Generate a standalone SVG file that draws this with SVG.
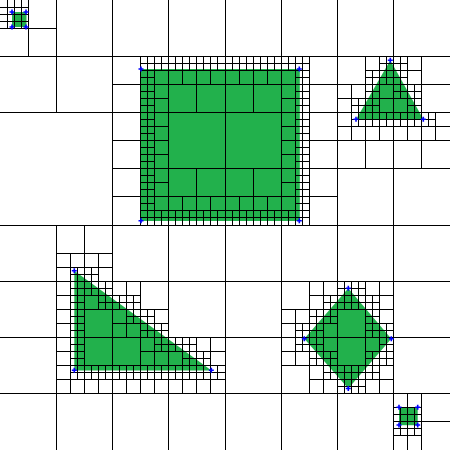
<svg xmlns="http://www.w3.org/2000/svg" xmlns:xlink="http://www.w3.org/1999/xlink" width="450" height="450" viewBox="0 0 450 450">
<style>
.shape{fill:#22b14c;stroke:none}
.grid{fill:none;stroke:#000;stroke-width:0.14222;shape-rendering:crispEdges}
.mk{fill:none;stroke:#0000ff;stroke-width:1.6}
</style>
<defs>
<path id="m" class="mk" d="M-2.5 0h5M0 -2.5v5"/>
</defs>
<rect width="450" height="450" fill="#fff"/>
<g id="shapes">
<rect id="squareA" class="shape" x="12" y="12" width="14.5" height="15"/>
<rect id="squareB" class="shape" x="140.8" y="69" width="159" height="152"/>
<polygon id="triangleC" class="shape" points="390.3,60.3 356,119.5 423.5,119.5"/>
<polygon id="triangleD" class="shape" points="74.3,270.7 74.3,370.5 211.5,370.5"/>
<polygon id="diamondE" class="shape" points="348.3,288.3 391.3,338.7 348.3,388.5 304.3,338.7"/>
<rect id="squareF" class="shape" x="399" y="407.5" width="18.7" height="17.7"/>
</g>
<g id="connectors" class="grid" transform="scale(7.03125)">
<path id="level0-2" d="M0 32h64M32 0v64M0 16h64M0 48h64M16 0v64M48 0v64M0 8h64M16 24h48M0 40h64M0 56h64M8 0v16M8 32v32M24 0v64M40 0v64M56 0v64"/>
<path id="level3" d="M0 4h8M16 12h48M16 20h8M40 20h24M16 28h32M8 36h8M8 44h16M40 44h16M8 52h24M40 52h16M56 60h8M4 0v8M12 32v24M20 8v24M20 40v16M28 8v8M28 24v8M28 48v8M36 8v8M36 24v8M44 8v24M44 40v16M52 8v16M52 40v16M60 8v16M60 56v8"/>
<path id="level4" d="M0 2h4M20 10h24M52 10h8M20 14h4M40 14h4M48 14h12M20 18h4M40 18h4M48 18h16M20 22h4M40 22h4M20 26h4M40 26h4M20 30h24M8 38h8M8 42h12M44 42h12M8 46h4M16 46h8M40 46h8M52 46h4M8 50h4M20 50h12M40 50h8M52 50h4M8 54h24M44 54h12M56 58h4M56 62h4M2 0v4M10 36v20M14 36v8M14 52v4M18 40v8M18 52v4M22 8v24M22 44v12M26 8v4M26 28v4M26 48v8M30 8v4M30 28v4M30 48v8M34 8v4M34 28v4M38 8v4M38 28v4M42 8v24M42 44v8M46 40v16M50 12v8M50 40v4M50 52v4M54 8v12M54 40v16M58 8v12M58 56v8M62 16v4"/>
<path id="level5" d="M0 1h4M0 3h4M20 9h24M54 9h4M20 11h2M42 11h2M52 11h6M20 13h2M42 13h2M52 13h2M56 13h4M20 15h2M42 15h2M50 15h4M58 15h2M20 17h2M42 17h2M50 17h12M20 19h2M42 19h2M20 21h2M42 21h2M20 23h2M42 23h2M20 25h2M42 25h2M20 27h2M42 27h2M20 29h2M42 29h2M20 31h24M10 39h4M10 41h6M48 41h4M10 43h2M14 43h6M46 43h8M10 45h2M18 45h4M44 45h4M52 45h2M10 47h2M20 47h4M42 47h4M52 47h4M10 49h2M22 49h6M42 49h4M54 49h2M10 51h2M26 51h4M44 51h4M52 51h4M10 53h22M46 53h8M48 55h4M56 59h4M56 61h4M1 0v4M3 0v4M11 38v16M13 38v4M13 52v2M15 40v4M15 52v2M17 42v2M17 52v2M19 42v4M19 52v2M21 8v24M21 44v4M21 52v2M23 8v2M23 30v2M23 46v4M23 52v2M25 8v2M25 30v2M25 48v2M25 52v2M27 8v2M27 30v2M27 48v6M29 8v2M29 30v2M29 50v4M31 8v2M31 30v2M31 52v2M33 8v2M33 30v2M35 8v2M35 30v2M37 8v2M37 30v2M39 8v2M39 30v2M41 8v2M41 30v2M43 8v24M43 46v4M45 44v8M47 42v4M47 50v4M49 40v4M49 52v4M51 14v4M51 40v4M51 52v4M53 10v8M53 42v6M53 50v4M55 8v4M55 16v2M55 46v6M57 8v6M57 16v2M57 58v4M59 12v6M59 58v4M61 16v2"/>
</g>
<g id="markers">
<use xlink:href="#m" x="12" y="12"/><use xlink:href="#m" x="26" y="12"/><use xlink:href="#m" x="12" y="27"/><use xlink:href="#m" x="26" y="27"/>
<use xlink:href="#m" x="141" y="69"/><use xlink:href="#m" x="299.3" y="69"/><use xlink:href="#m" x="141" y="220.7"/><use xlink:href="#m" x="299.3" y="220.7"/>
<use xlink:href="#m" x="390.3" y="60.3"/><use xlink:href="#m" x="356" y="119.3"/><use xlink:href="#m" x="423.3" y="119.3"/>
<use xlink:href="#m" x="74.3" y="270.7"/><use xlink:href="#m" x="74.3" y="370.3"/><use xlink:href="#m" x="211.3" y="370.3"/>
<use xlink:href="#m" x="348.3" y="288.3"/><use xlink:href="#m" x="304.3" y="338.7"/><use xlink:href="#m" x="391.3" y="338.7"/><use xlink:href="#m" x="348.3" y="388.5"/>
<use xlink:href="#m" x="399" y="407.3"/><use xlink:href="#m" x="417.7" y="407.3"/><use xlink:href="#m" x="399" y="425"/><use xlink:href="#m" x="417.7" y="425"/>
</g>
</svg>
